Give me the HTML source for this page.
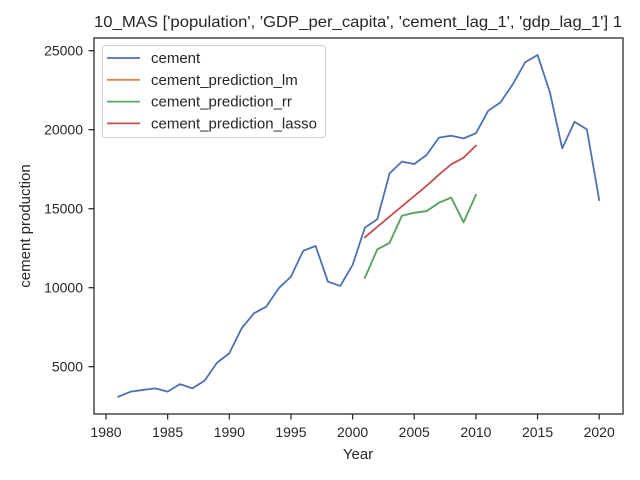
<!DOCTYPE html>
<html><head><meta charset="utf-8"><style>
html,body{margin:0;padding:0;background:#fff;}
svg{display:block;font-family:"Liberation Sans",Arial,sans-serif;}
</style></head><body>
<svg id="chart" width="640" height="480" viewBox="0 0 640 480">
<rect x="0" y="0" width="640" height="480" fill="#fff"/>
<text x="358" y="27" font-size="16" text-anchor="middle" textLength="528" lengthAdjust="spacingAndGlyphs" fill="#262626">10_MAS ['population', 'GDP_per_capita', 'cement_lag_1', 'gdp_lag_1'] 1</text>
<g id="marks"></g>
<rect x="94" y="38" width="529" height="376" fill="none" stroke="#262626" stroke-width="1.25"/>
<g id="xticks"></g><g id="yticks"></g>
<text x="358" y="459" font-size="15" text-anchor="middle" fill="#262626">Year</text>
<text transform="translate(30,226) rotate(-90)" font-size="15" text-anchor="middle" fill="#262626">cement production</text>
<g>
<rect x="102.5" y="45.5" width="223" height="92" rx="3" fill="#fff" fill-opacity="0.8" stroke="#d0d0d0"/>
<g id="legend-entries"></g>
</g>
</svg>
<script>
const years = [1981,1982,1983,1984,1985,1986,1987,1988,1989,1990,1991,1992,1993,1994,1995,1996,1997,1998,1999,2000,2001,2002,2003,2004,2005,2006,2007,2008,2009,2010,2011,2012,2013,2014,2015,2016,2017,2018,2019,2020];
const cement = [3100,3420,3530,3630,3420,3900,3630,4120,5250,5850,7430,8380,8800,9960,10700,12340,12640,10380,10110,11440,13800,14330,17240,17980,17830,18400,19500,19620,19450,19770,21200,21730,22890,24270,24730,22370,18820,20500,20020,15550];
const predYears = [2001,2002,2003,2004,2005,2006,2007,2008,2009,2010];
const predLm = [10630,12420,12840,14550,14740,14850,15380,15700,14140,15870];
const predRr = [10630,12420,12840,14550,14740,14850,15380,15700,14140,15870];
const predLasso = [13190,13850,14500,15150,15800,16450,17150,17810,18230,18990];
const xTicks = [1980,1985,1990,1995,2000,2005,2010,2015,2020];
const yTicks = [5000,10000,15000,20000,25000];
const seriesNames = ['cement','cement_prediction_lm','cement_prediction_rr','cement_prediction_lasso'];

const NS='http://www.w3.org/2000/svg';
function sx(v){return 106 + (v-1980)*12.33;}
function sy(v){return 366.7 - (v-5000)*0.0158;}
function mk(tag,attrs,parent){const e=document.createElementNS(NS,tag);for(const k in attrs)e.setAttribute(k,attrs[k]);parent.appendChild(e);return e;}
const marks=document.getElementById('marks');
const colors=['#4c72b0','#dd8452','#55a868','#c44e52'];
function line(xs,ys,color,name){
  const d=xs.map((x,i)=>(i?'L':'M')+sx(x).toFixed(2)+','+sy(ys[i]).toFixed(2)).join('');
  const p=mk('path',{d:d,fill:'none',stroke:color,'stroke-width':1.8,'stroke-linejoin':'round','stroke-linecap':'square'},marks);
  
  
}
line(years,cement,colors[0],'cement-line');
line(predYears,predLm,colors[1],'cement-prediction-lm-line');
line(predYears,predRr,colors[2],'cement-prediction-rr-line');
line(predYears,predLasso,colors[3],'cement-prediction-lasso-line');

const xt=document.getElementById('xticks');
xTicks.forEach(t=>{
  const l=mk('line',{x1:sx(t),x2:sx(t),y1:414,y2:419.5,stroke:'#262626','stroke-width':1.25},xt);
  
  
  const tx=mk('text',{x:sx(t),y:437,'font-size':14,'text-anchor':'middle',fill:'#262626'},xt);
  tx.textContent=t;
  
  
});
const yt=document.getElementById('yticks');
yTicks.forEach(t=>{
  const l=mk('line',{x1:88.5,x2:94,y1:sy(t),y2:sy(t),stroke:'#262626','stroke-width':1.25},yt);
  
  
  const tx=mk('text',{x:83,y:sy(t)+5,'font-size':14,'text-anchor':'end',fill:'#262626'},yt);
  tx.textContent=t;
  
  
});
const lg=document.getElementById('legend-entries');
seriesNames.forEach((n,i)=>{
  const y=58+i*21.8;
  const l=mk('line',{x1:107,x2:140,y1:y,y2:y,stroke:colors[i],'stroke-width':1.8},lg);
  
  
  const tx=mk('text',{x:151,y:y+5,'font-size':15,fill:'#262626'},lg);
  tx.textContent=n;
  
  
});
</script>
</body></html>
